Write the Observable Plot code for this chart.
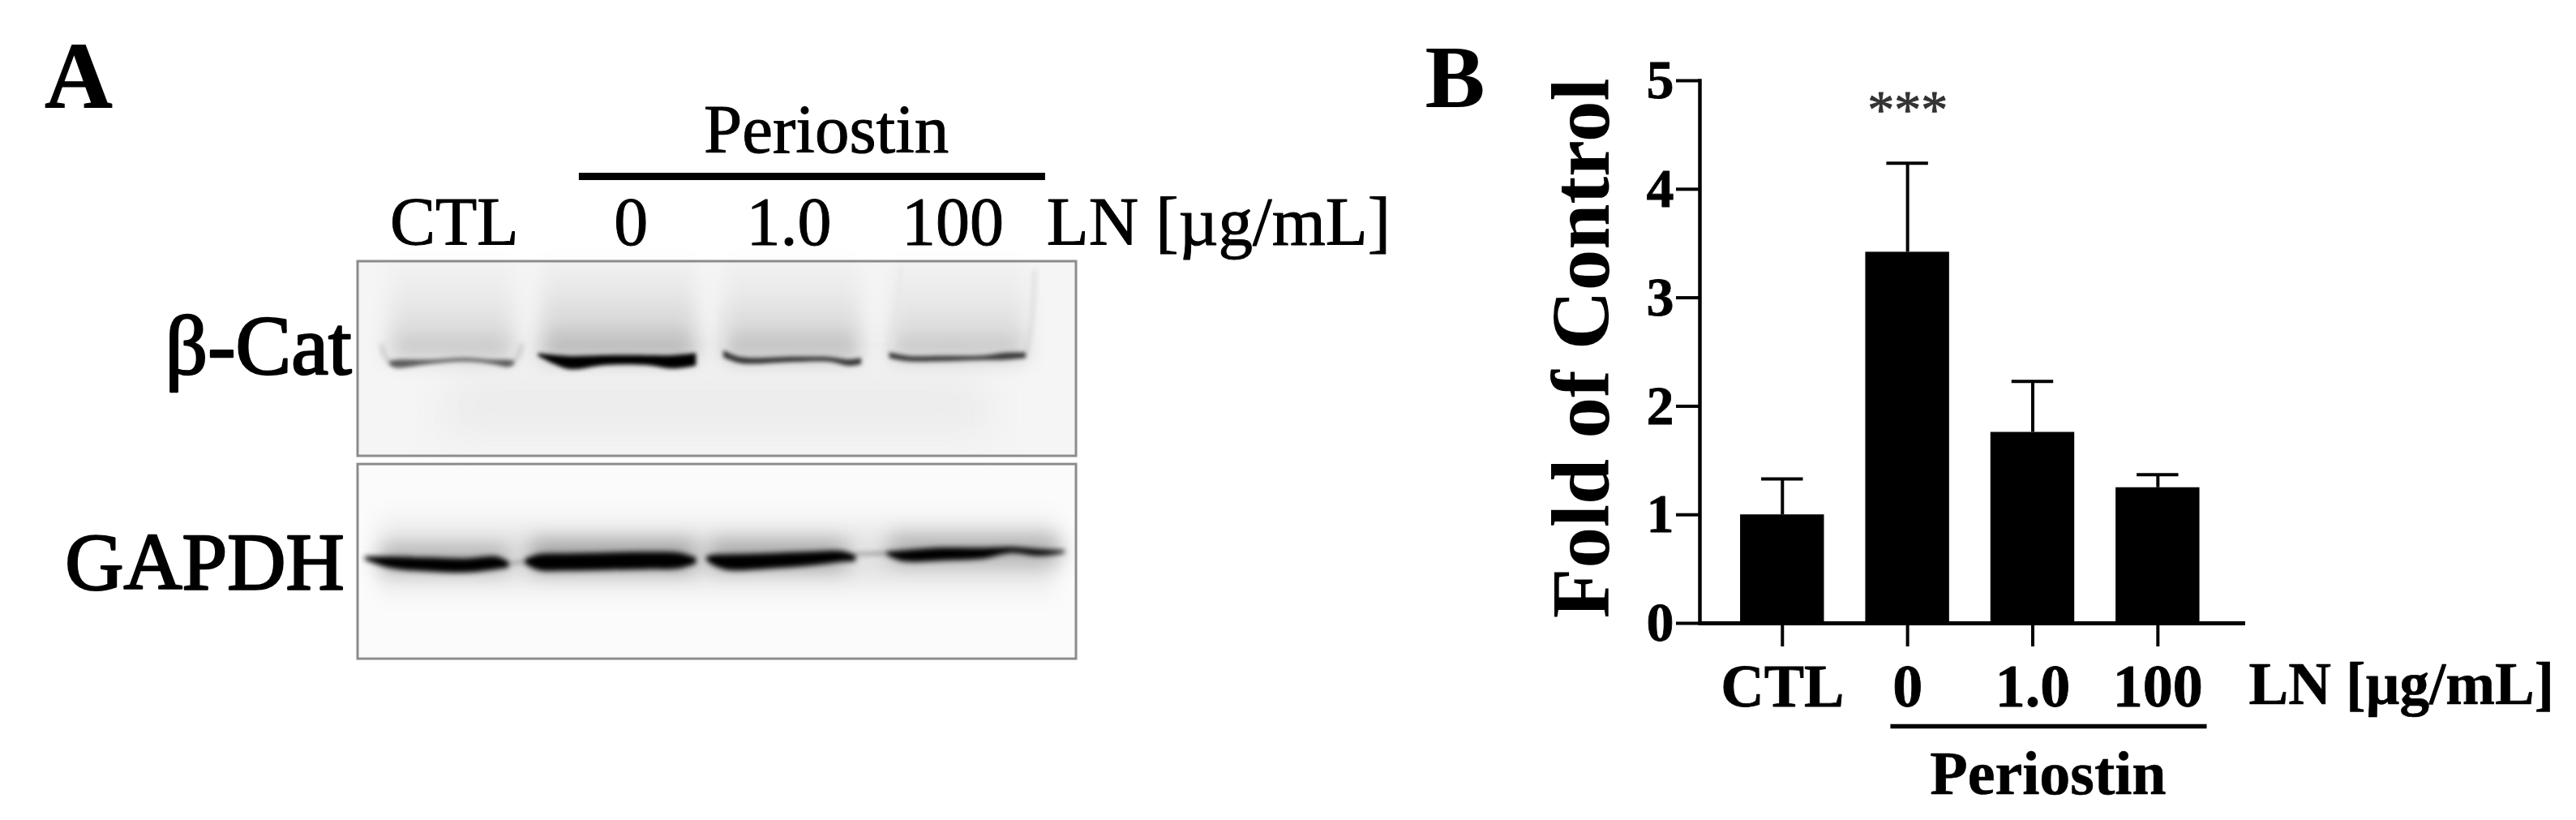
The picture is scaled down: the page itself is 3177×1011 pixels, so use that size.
<!DOCTYPE html>
<html>
<head>
<meta charset="utf-8">
<script src="https://cdn.jsdelivr.net/npm/d3@7"></script>
<script src="https://cdn.jsdelivr.net/npm/@observablehq/plot@0.6"></script>
<style>
  html, body { margin: 0; padding: 0; background: #fff; }
  #page { display: flex; width: 3177px; height: 1011px; overflow: hidden; }
  #page svg { flex: none; display: block; max-width: none; filter: blur(0.7px); }
</style>
</head>
<body>
<div id="page"></div>
<script>
const SERIF = "Liberation Serif";

// ---------- Panel B: densitometry ----------
const groups = ["CTL", "0", "1.0", "100"];
const foldMean = [1.0, 3.42, 1.76, 1.25];
const foldUpper = [1.33, 4.24, 2.23, 1.37];
const yTicks = [0, 1, 2, 3, 4, 5];
const significance = [{group: "0", label: "***", y: 4.57}];

// ---------- Panel A: blot, x = % of blot width, y = % of first membrane height ----------
const laneLabels = ["CTL", "0", "1.0", "100"];
const laneLabelX = [13.4, 38.0, 60.0, 82.8];
const membranes = [
  {name: "β-Cat", top: 0, bottom: 100},
  {name: "GAPDH", top: 104.2, bottom: 204.2}
];
// each band: [x, centre, thickness]
const catBands = [
  {tone: "#5c5c5c", points: [[4.4,52.1,1.5],[5.2,52.7,4.0],[10.0,51.7,2.2],[14.9,50.6,1.8],[18.7,51.7,2.2],[21.0,52.5,3.6],[21.8,52.1,1.5]]},
  {tone: "#000000", points: [[25.1,47.9,1.3],[27.3,50.4,4.6],[29.6,52.1,6.8],[34.5,50.8,5.0],[40.2,50.8,5.0],[43.9,51.7,6.8],[47.1,50.4,6.4]]},
  {tone: "#333333", points: [[50.9,47.5,3.6],[53.3,50.8,3.2],[60.8,50.4,2.6],[65.7,50.4,2.3],[68.4,52.1,3.2],[70.1,51.3,3.2]]},
  {tone: "#383838", points: [[74.0,48.3,3.0],[76.6,50.0,2.8],[81.5,50.0,2.8],[87.1,49.6,2.3],[90.2,48.8,3.6],[93.0,48.3,2.8]]}
];
const gapdhBands = [
  {tone: "#000000", points: [[1.0,152.5,1.7],[4.4,154.6,5.8],[10.0,155.8,7.2],[14.9,156.3,7.2],[19.4,155.0,6.4],[21.0,155.8,3.0]]},
  {tone: "#000000", points: [[23.3,154.2,2.5],[25.1,154.6,8.0],[28.9,154.6,8.8],[34.5,154.2,8.8],[40.2,153.8,8.8],[44.7,153.8,8.0],[47.1,153.8,3.0]]},
  {tone: "#000000", points: [[48.5,152.5,1.3],[49.3,153.3,4.8],[51.6,154.6,8.0],[56.1,154.2,8.0],[62.8,152.9,7.2],[67.3,151.7,5.6],[69.3,152.5,3.2]]},
  {tone: "#000000", points: [[73.6,150.0,1.7],[75.9,151.3,5.6],[81.5,150.4,6.6],[87.1,150.0,5.6],[91.0,148.3,3.0],[94.7,149.6,3.4],[98.4,149.2,1.3]]},
  {tone: "#777777", points: [[21.0,155.5,1.0],[23.3,154.2,1.0]]},
  {tone: "#777777", points: [[69.3,150.5,1.0],[73.6,150.0,1.2]]}
];
// faint smile edges of the β-Cat lanes: [x, y]
const laneEdges = [
  {tone: "#b4b4b4", points: [[3.3,42.9],[3.7,48.3],[4.6,52.1]]},
  {tone: "#b4b4b4", points: [[22.8,42.9],[22.2,49.0],[21.1,52.5]]},
  {tone: "#cfcfcf", points: [[93.0,48.0],[93.8,30.0],[94.2,5.0]]},
  {tone: "#e4e4e4", points: [[74.0,48.0],[75.0,25.0],[75.6,3.0]]},
  {tone: "#e4e4e4", points: [[51.0,47.0],[50.6,25.0]]}
];
// smear above the β-Cat bands: lane extent and darkening tiers
const catLanes = [[4.5, 21.8], [25.5, 47.2], [50.9, 70.0], [74.2, 93.0]];
const catLaneWeight = [0.9, 1.25, 1.1, 0.9];
const catTiers = [[2, 48, 0.03], [18, 49, 0.04], [30, 50, 0.05], [39, 50, 0.08], [45, 50, 0.1]];
// smear round the GAPDH bands: [x1, x2, y1, y2, opacity]
const gapdhHalo = [
  [3, 97, 130, 172, 0.04],
  [3, 97, 140, 163, 0.06],
  [3, 21, 146, 160, 0.22],
  [24, 47, 143, 160, 0.28],
  [49, 68, 143, 159, 0.25],
  [74, 98, 140, 156, 0.22]
];
// background wash inside the membranes: [x1, x2, y1, y2, tone]
const washes = [
  [0, 100, 0, 100, "#f5f5f5"],
  [0, 100, 104.2, 204.2, "#fbfbfb"]
];
const washSoft = [
  [12, 88, 66, 88, "#ebebeb"],
  [14, 86, 56, 66, "#eeeeee"]
];

const bandRows = bands => bands.flatMap((b, id) =>
  b.points.map(([x, c, t]) => ({id, x, lo: c - t / 2, hi: c + t / 2, tone: b.tone})));
const edgeRows = laneEdges.flatMap((e, id) => e.points.map(([x, y]) => ({id, x, y, tone: e.tone})));
const smearRows = catLanes.flatMap(([x1, x2], i) =>
  catTiers.map(([y1, y2, o]) => ({x1, x2, y1, y2, o: o * catLaneWeight[i]})));

const text = (label, x, y, fontSize, extra = {}) =>
  Plot.text([label], {x: () => x, y: () => y, text: d => d, fontSize, fontFamily: SERIF,
    lineAnchor: "bottom", fill: "#000", stroke: "#000", strokeWidth: 1, ...extra});

const blot = Plot.plot({
  width: 1740, height: 1011,
  marginTop: 0, marginRight: 0, marginBottom: 0, marginLeft: 0,
  x: {domain: [0, 100], range: [441, 1327], axis: null},
  y: {domain: [0, 100], range: [322, 562], axis: null},
  color: {type: "identity"},
  style: {fontFamily: SERIF, background: "#fff"},
  marks: [
    Plot.rect(washes, {x1: d => d[0], x2: d => d[1], y1: d => d[2], y2: d => d[3], fill: d => d[4]}),
    Plot.rect(washSoft, {x1: d => d[0], x2: d => d[1], y1: d => d[2], y2: d => d[3], fill: d => d[4], imageFilter: "blur(22px)"}),
    Plot.rect(smearRows, {x1: "x1", x2: "x2", y1: "y1", y2: "y2", fill: "#000", fillOpacity: "o", imageFilter: "blur(13px)"}),
    Plot.rect(gapdhHalo, {x1: d => d[0], x2: d => d[1], y1: d => d[2], y2: d => d[3], fill: "#000", fillOpacity: d => d[4], imageFilter: "blur(12px)"}),
    Plot.line(edgeRows, {x: "x", y: "y", z: "id", stroke: "tone", strokeWidth: 3, curve: "catmull-rom", imageFilter: "blur(3px)"}),
    Plot.areaY(bandRows(catBands), {x: "x", y1: "lo", y2: "hi", z: "id", fill: "tone", curve: "catmull-rom", imageFilter: "blur(2.6px)"}),
    Plot.areaY(bandRows(gapdhBands), {x: "x", y1: "lo", y2: "hi", z: "id", fill: "tone", curve: "catmull-rom", imageFilter: "blur(3px)"}),
    Plot.rect(membranes, {x1: () => 0, x2: () => 100, y1: "top", y2: "bottom", fill: "none", stroke: "#8c8c8c", strokeWidth: 3}),
    text("A", -38.9, -79.2, 116, {fontWeight: "bold"}),
    text("Periostin", 65.2, -56.25, 85),
    Plot.ruleY([-43.75], {x1: 30.8, x2: 95.7, stroke: "#000", strokeWidth: 9}),
    Plot.text(laneLabels, {x: (d, i) => laneLabelX[i], y: () => -8.75, text: d => d, fontSize: 84, fontFamily: SERIF, lineAnchor: "bottom", fill: "#000", stroke: "#000", strokeWidth: 1}),
    text("LN [µg/mL]", 95.85, -8.75, 85, {textAnchor: "start"}),
    text(membranes[0].name, -0.9, 57.9, 103, {textAnchor: "end", strokeWidth: 2.5}),
    text(membranes[1].name, -1.9, 168.3, 100, {textAnchor: "end", strokeWidth: 2.5})
  ]
});

const rows = groups.map((group, i) => ({group, mean: foldMean[i], upper: foldUpper[i]}));

const bars = Plot.plot({
  width: 1437, height: 1011,
  marginTop: 99, marginRight: 408, marginBottom: 243, marginLeft: 356,
  x: {domain: groups, paddingInner: 0.33, paddingOuter: 0.345, align: 0.47, round: false, label: null},
  y: {domain: [0, 5], label: null},
  style: {fontFamily: SERIF, fontWeight: "bold", background: "#fff", color: "#000"},
  marks: [
    Plot.barY(rows, {x: "group", y: "mean", fill: "#000"}),
    Plot.ruleX(rows, {x: "group", y1: "mean", y2: "upper", stroke: "#000", strokeWidth: 4}),
    Plot.tickY(rows, {x: "group", y: "upper", stroke: "#000", strokeWidth: 4, insetLeft: 26, insetRight: 26}),
    Plot.axisY({ticks: yTicks, tickSize: 29, tickPadding: 3, strokeWidth: 4, fontSize: 68, fontWeight: "bold", stroke: "#000", fill: "#000", textStroke: "#000", textStrokeWidth: 0.8, label: null, tickFormat: d => String(d)}),
    Plot.axisX({tickSize: 29, tickPadding: 21, strokeWidth: 4, fontSize: 74, fontWeight: "bold", stroke: "#000", fill: "#000", textStroke: "#000", textStrokeWidth: 0.8, label: null}),
    Plot.ruleY([0], {stroke: "#000", strokeWidth: 5}),
    Plot.frame({anchor: "left", stroke: "#000", strokeWidth: 4.5}),
    Plot.text(significance, {x: "group", y: "y", text: "label", fontSize: 66, fontWeight: "normal", fontFamily: SERIF, fill: "#333", stroke: "#333", strokeWidth: 1, lineAnchor: "bottom"}),
    Plot.text(["B"], {frameAnchor: "left", y: () => 4.76, dx: -339, text: d => d, fontSize: 111, fontWeight: "bold", textAnchor: "start", lineAnchor: "bottom", fontFamily: SERIF, fill: "#000"}),
    Plot.text(["Fold of Control"], {frameAnchor: "left", y: () => 2.535, dx: -113, text: d => d, rotate: -90, fontSize: 101, fontWeight: "bold", textAnchor: "middle", lineAnchor: "bottom", fontFamily: SERIF, fill: "#000"}),
    Plot.text(["LN [µg/mL]"], {frameAnchor: "right", y: () => -0.74, dx: 4, text: d => d, fontSize: 73, fontWeight: "bold", textAnchor: "start", lineAnchor: "bottom", fontFamily: SERIF, fill: "#000", stroke: "#000", strokeWidth: 0.6}),
    Plot.ruleY([-0.95], {x1: () => "0", x2: () => "100", insetLeft: 31, insetRight: -9, stroke: "#000", strokeWidth: 5.5}),
    Plot.text(["Periostin"], {x: () => "1.0", y: () => -1.57, dx: 19, text: d => d, fontSize: 76, fontWeight: "bold", lineAnchor: "bottom", fontFamily: SERIF, fill: "#000", stroke: "#000", strokeWidth: 0.6})
  ]
});

document.getElementById("page").append(blot, bars);
</script>
</body>
</html>
